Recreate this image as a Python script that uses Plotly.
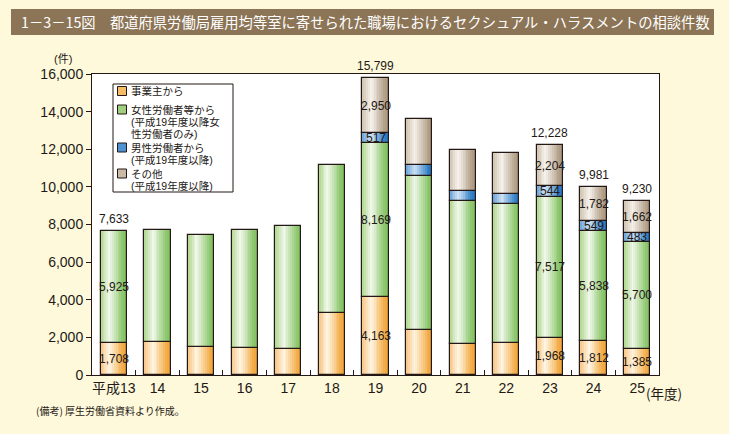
import plotly.graph_objects as go

# ---------------- data ----------------
years = ["平成13", "14", "15", "16", "17", "18", "19", "20", "21", "22", "23", "24", "25"]
employer = [1708, 1740, 1470, 1420, 1370, 3280, 4163, 2380, 1630, 1690, 1968, 1812, 1385]
female = [5925, 5950, 5970, 6270, 6550, 7870, 8169, 8190, 7600, 7390, 7517, 5838, 5700]
male = [None, None, None, None, None, None, 517, 585, 530, 530, 544, 549, 483]
other = [None, None, None, None, None, None, 2950, 2445, 2180, 2180, 2204, 1782, 1662]

labeled_years = ["平成13", "19", "23", "24", "25"]
total_labels = [7633, 15799, 12228, 9981, 9230]

series_names = ["事業主から", "女性労働者等から", "男性労働者から", "その他"]
legend_lines = [
    ["事業主から"],
    ["女性労働者等から", "(平成19年度以降女", "性労働者のみ)"],
    ["男性労働者から", "(平成19年度以降)"],
    ["その他", "(平成19年度以降)"],
]
title_text = "1－3－15図　都道府県労働局雇用均等室に寄せられた職場におけるセクシュアル・ハラスメントの相談件数"
note_text = "(備考) 厚生労働省資料より作成。"
y_unit = "(件)"
x_unit = "(年度)"

# ---------------- style ----------------
W, H = 729, 434
L, R, T, B = 92, 70, 74, 59
PW, PH = W - L - R, H - T - B
BG = "#FFF9DB"
INK = "#231815"
NUM_FONT = "Liberation Sans, Arial, Noto Sans CJK JP"
JP_FONT = "Noto Sans CJK JP, Liberation Sans"

# gradient stops: left, highlight, right
grads = [
    ("#F8C585", "#FFF5E2", "#F2A940"),
    ("#AFD68E", "#F1F8EA", "#86C466"),
    ("#6AA3DA", "#D0E3F5", "#2A7AC4"),
    ("#D0C3B1", "#F6F2EC", "#AF9C83"),
]
mids = ["#F6BD66", "#A0D07F", "#4F92D2", "#C8BAA6"]


def hex2rgb(h):
    h = h.lstrip("#")
    return tuple(int(h[i:i + 2], 16) for i in (0, 2, 4))


def mix(a, b, t):
    a, b = hex2rgb(a), hex2rgb(b)
    return "rgb(%d,%d,%d)" % tuple(round(a[i] + (b[i] - a[i]) * t) for i in range(3))


def grad_color(stops, t):
    c0, c1, c2 = stops
    p = 0.33
    if t <= p:
        return mix(c0, c1, t / p)
    return mix(c1, c2, min(1.0, (t - p) / (1 - p) * 1.25))


def px_x(px):
    return (px - L) / PW


def px_y(py):
    return (T + PH - py) / PH


series = [employer, female, male, other]
bases = []
run = [0] * len(years)
for s in series:
    bases.append(list(run))
    run = [r + (v or 0) for r, v in zip(run, s)]

xi = list(range(len(years)))
BW = 0.6
NS = 14
fig = go.Figure()
for k, (s, b) in enumerate(zip(series, bases)):
    fig.add_trace(go.Bar(x=xi, y=s, base=b, width=BW, offset=-BW / 2,
                         marker=dict(color=mids[k], line=dict(width=0)),
                         name=series_names[k], showlegend=False, hoverinfo="skip"))
    sw = BW / NS
    for i in range(NS):
        t = (i + 0.5) / NS
        fig.add_trace(go.Bar(x=xi, y=s, base=b,
                             width=min(sw * 1.2, BW - i * sw), offset=-BW / 2 + i * sw,
                             marker=dict(color=grad_color(grads[k], t), line=dict(width=0)),
                             showlegend=False, hoverinfo="skip"))
    fig.add_trace(go.Bar(x=xi, y=s, base=b, width=BW, offset=-BW / 2,
                         marker=dict(color="rgba(0,0,0,0)", line=dict(color=INK, width=1.2)),
                         showlegend=False, hoverinfo="skip"))

annotations = []
for yr in labeled_years:
    i = years.index(yr)
    for k, (s, b) in enumerate(zip(series, bases)):
        v = s[i]
        if v is None:
            continue
        annotations.append(dict(x=i, y=b[i] + v / 2, xref="x", yref="y", text=f"{v:,}",
                                showarrow=False, font=dict(family=NUM_FONT, size=12, color=INK)))
for yr, tv in zip(labeled_years, total_labels):
    i = years.index(yr)
    top = run[i]
    annotations.append(dict(x=i, y=top, xref="x", yref="y", text=f"{tv:,}", yanchor="bottom",
                            yshift=3, showarrow=False,
                            font=dict(family=NUM_FONT, size=12, color=INK)))

# axis unit labels
annotations.append(dict(x=px_x(74), y=px_y(59), xref="paper", yref="paper", text=y_unit,
                        xanchor="right", yanchor="middle", showarrow=False,
                        font=dict(family="Liberation Sans, Noto Sans CJK JP", size=11, color=INK)))
annotations.append(dict(x=len(years) - 1, y=0, xref="x", yref="paper", text=x_unit,
                        xanchor="left", yanchor="top", xshift=7, yshift=-6, showarrow=False,
                        font=dict(family=JP_FONT, size=13.5, color=INK)))
# title
annotations.append(dict(x=px_x(19), y=px_y(22), xref="paper", yref="paper", text=title_text,
                        xanchor="left", yanchor="middle", showarrow=False,
                        font=dict(family=JP_FONT, size=14.3, color="white")))
# note
annotations.append(dict(x=px_x(34), y=px_y(411), xref="paper", yref="paper", text=note_text,
                        xanchor="left", yanchor="middle", showarrow=False,
                        font=dict(family=JP_FONT, size=10, color=INK)))

shapes = [dict(type="rect", xref="paper", yref="paper", x0=px_x(11), x1=px_x(714),
               y0=px_y(35), y1=px_y(9), fillcolor="#8C7556", line=dict(width=0), layer="below")]

# custom legend
LFS = 10.5
LEG_FONT = "Liberation Sans, Noto Sans CJK JP"
line_y = [[91], [109.5, 121.5, 133.5], [147.5, 159.5], [173.5, 185.5]]
shapes.append(dict(type="rect", xref="paper", yref="paper", x0=px_x(113), x1=px_x(233),
                   y0=px_y(192), y1=px_y(84), fillcolor="white", line=dict(color=INK, width=1)))
for k, lines in enumerate(legend_lines):
    y0 = line_y[k][0]
    shapes.append(dict(type="rect", xref="paper", yref="paper", x0=px_x(117.5), x1=px_x(126.5),
                       y0=px_y(y0 + 4.5), y1=px_y(y0 - 4.5), fillcolor=mids[k],
                       line=dict(color=INK, width=1)))
    for txt, yy in zip(lines, line_y[k]):
        annotations.append(dict(x=px_x(129), y=px_y(yy), xref="paper", yref="paper", text=txt,
                                xanchor="left", yanchor="middle", showarrow=False,
                                font=dict(family=LEG_FONT, size=LFS, color=INK)))

fig.update_layout(
    width=W, height=H, margin=dict(l=L, r=R, t=T, b=B, autoexpand=False),
    paper_bgcolor=BG, plot_bgcolor="white", barmode="overlay", bargap=0,
    showlegend=False, annotations=annotations, shapes=shapes,
    font=dict(family=NUM_FONT, color=INK),
)
fig.update_xaxes(tickmode="array", tickvals=xi, ticktext=years, tickangle=0, automargin=False,
                 showline=True, linecolor=INK, linewidth=1, mirror=True,
                 ticks="", showgrid=False, zeroline=False, range=[-0.5, len(years) - 0.5],
                 tickfont=dict(family=NUM_FONT, size=14, color=INK))
fig.update_xaxes(minor=dict(tickmode="array", tickvals=[i + 0.5 for i in xi[:-1]],
                            ticks="inside", ticklen=5, tickcolor=INK, showgrid=False))
fig.update_yaxes(range=[0, 16000], tickvals=list(range(0, 16001, 2000)), tickformat=",d",
                 automargin=False,
                 showline=True, linecolor=INK, linewidth=1, mirror=True, ticks="outside",
                 ticklen=5, tickcolor=INK, showgrid=False, zeroline=False,
                 tickfont=dict(family=NUM_FONT, size=14, color=INK))

fig.write_html("out.html", config={"displayModeBar": False},
               post_script="document.body.style.margin='0';"
                           "document.body.style.background='%s';" % BG)
